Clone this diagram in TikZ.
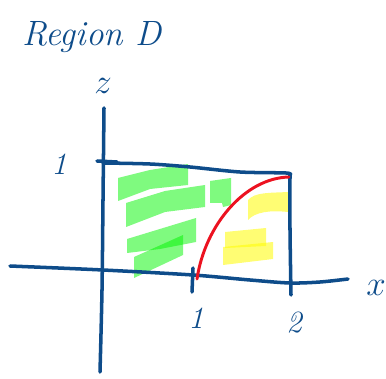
\documentclass[tikz,border=0pt]{standalone}
\usepackage{tikz}
\usetikzlibrary{
		calc,
		positioning
	}
\tikzset{
		>=stealth
	}
\definecolor{pen}{RGB}{14,76,138}
\definecolor{redpen}{RGB}{236,18,32}
\tikzset{
		pen/.style={draw=pen, line width=2.5pt, line cap=round, line join=round},
		hlgreen/.style={fill={rgb,255:red,0;green,245;blue,0}, fill opacity=0.5},
		hlyellow/.style={fill={rgb,255:red,255;green,252;blue,0}, fill opacity=0.55},
		hand/.style={text=pen, font=\fontsize{22}{26}\selectfont\itshape}
	}

\begin{document}
\begin{tikzpicture}[x=0.025cm, y=-0.025cm]
            \useasboundingbox (0,0) rectangle (386,379);

            % green strokes
            \fill[hlgreen] (118,178) -- (150,170) -- (188,164) -- (188,185) -- (150,189) -- (118,201) -- cycle;
            \fill[hlgreen] (126,203) -- (165,191) -- (205,185) -- (205,207) -- (165,212) -- (126,227) -- cycle;
            \fill[hlgreen] (210,181) -- (231,178) -- (231,205) -- (223,207) -- (222,203) -- (210,203) -- cycle;
            \fill[hlgreen] (127,239) -- (196,218) -- (196,242) -- (160,249) -- (127,253) -- cycle;
            \fill[hlgreen] (134,257) -- (183,235) -- (183,255) -- (134,278) -- cycle;

            % yellow strokes
            \fill[hlyellow] (248,200) .. controls (255,192) and (270,193) .. (288,192) -- (288,212) .. controls (270,210) and (255,212) .. (248,220) -- cycle;
            \fill[hlyellow] (225,232) -- (266,228) -- (266,246) -- (225,248) -- cycle;
            \fill[hlyellow] (223,247) -- (273,242) -- (273,259) -- (223,265) -- cycle;

            % axes
            \draw[pen] plot[smooth] coordinates {(10,266) (103,270) (193,275) (250,280) (290,283) (320,282) (348,279)};
            \draw[pen] plot[smooth] coordinates {(104,108) (103,200) (102,290) (100,372)};

            % box and ticks
            \draw[pen] (97,161) -- (117,162);
            \draw[pen] plot[smooth] coordinates {(103,163) (150,164) (190,167) (240,172) (286,173) (290,175)};
            \draw[pen] plot[smooth] coordinates {(290,174) (290,230) (291,295)};
            \draw[pen] (193,268) -- (192,292);

            % curve
            \draw[redpen, line width=2.1pt, line cap=round] (197,279) .. controls (205,225) and (245,178) .. (289,177);

            % labels
            \node[hand, font=\fontsize{25}{30}\selectfont\itshape] (title) at (92,37) {Region D};
            \node[hand, font=\fontsize{26}{30}\selectfont] (zlab) at (103,86) {$z$};
            \node[hand, font=\fontsize{26}{30}\selectfont] (xlab) at (376,288) {$x$};
            \node[hand] (zone) at (59,164) {1};
            \node[hand] (xone) at (196,318) {1};
            \node[hand] (xtwo) at (294,323) {2};

        \end{tikzpicture}
\end{document}
